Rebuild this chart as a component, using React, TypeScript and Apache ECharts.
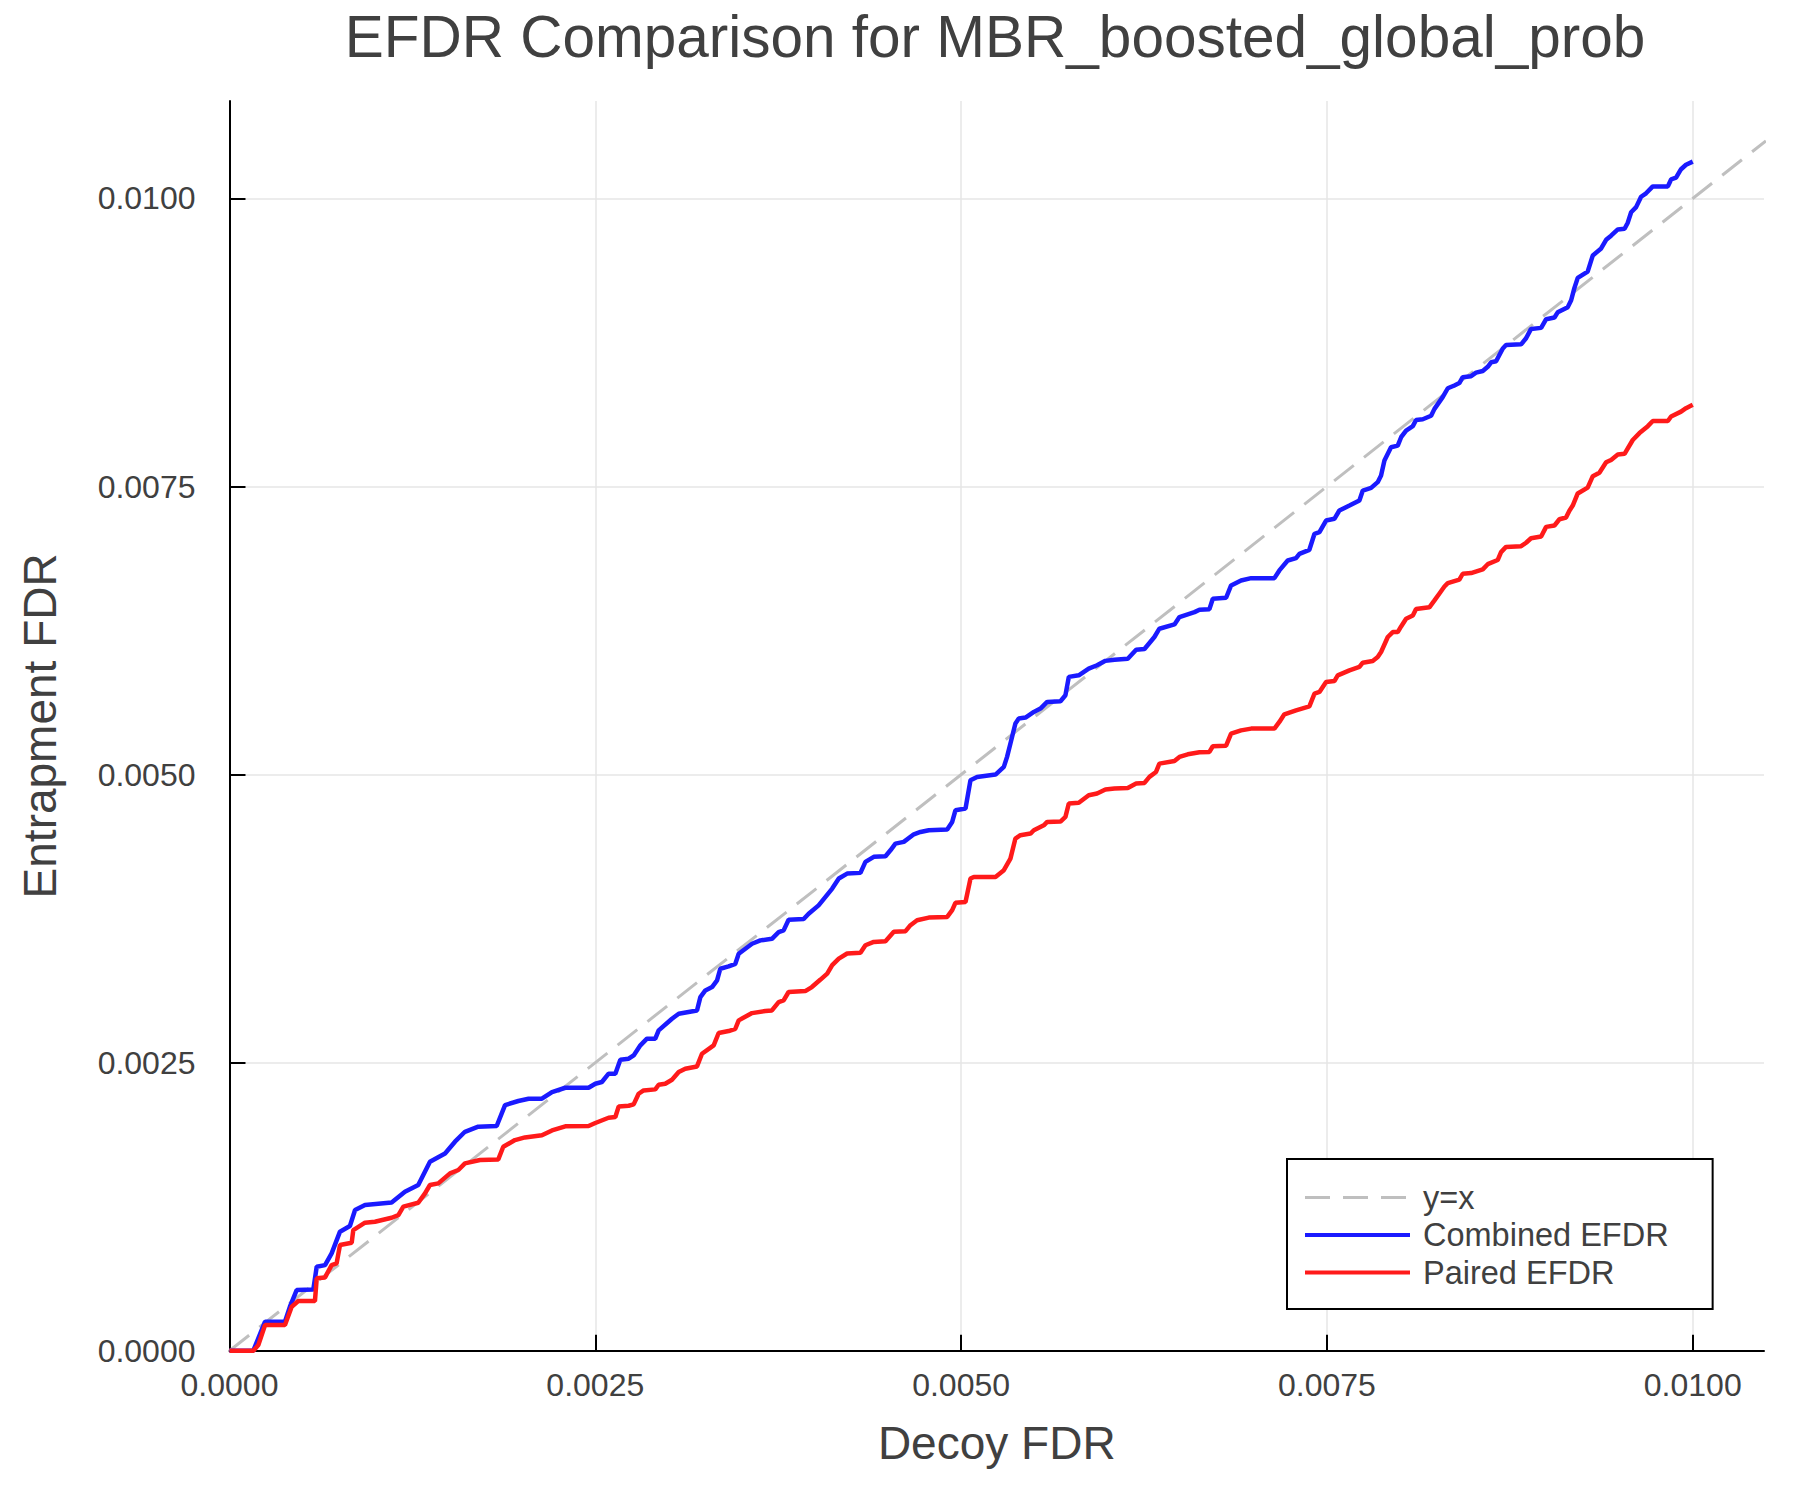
import * as echarts from 'echarts';
import React, { useEffect, useRef } from 'react';

// values, in FDR units
const combinedX = [
  0, 0.000163, 0.000243, 0.000379, 0.000413, 0.000459, 0.000573, 0.000596, 0.000653, 0.000698,
  0.000755, 0.000823, 0.000858, 0.000926, 0.001108, 0.001199, 0.00129, 0.00137, 0.001473, 0.001541,
  0.001609, 0.0017, 0.001826, 0.001883, 0.001974, 0.002044, 0.002135, 0.002204, 0.002295, 0.002454,
  0.0025, 0.002545, 0.002591, 0.002637, 0.002671, 0.002728, 0.002762, 0.002808, 0.002853, 0.00291,
  0.002933, 0.003024, 0.00307, 0.003195, 0.003218, 0.003252, 0.003298, 0.003332, 0.003354, 0.003411,
  0.003457, 0.00348, 0.003571, 0.003628, 0.003707, 0.003753, 0.003787, 0.003821, 0.003924, 0.003958,
  0.004026, 0.004119, 0.004164, 0.004221, 0.004312, 0.004346, 0.004403, 0.004483, 0.004517, 0.004551,
  0.004608, 0.004677, 0.004722, 0.004779, 0.004905, 0.004939, 0.004961, 0.00503, 0.005064, 0.005109,
  0.005235, 0.005292, 0.005314, 0.005337, 0.005371, 0.005394, 0.00544, 0.005497, 0.005542, 0.005588,
  0.005679, 0.005713, 0.005736, 0.005804, 0.005872, 0.005929, 0.005986, 0.006048, 0.006139, 0.006196,
  0.006253, 0.006321, 0.006355, 0.006458, 0.006492, 0.006595, 0.006629, 0.006697, 0.00672, 0.006811,
  0.006845, 0.006913, 0.006982, 0.007141, 0.007175, 0.007232, 0.007289, 0.007312, 0.00738, 0.007415,
  0.007449, 0.007494, 0.007551, 0.007585, 0.007654, 0.007722, 0.007745, 0.007802, 0.007847, 0.00787,
  0.007893, 0.007938, 0.007984, 0.008007, 0.008041, 0.008087, 0.008109, 0.008155, 0.008212, 0.008235,
  0.008292, 0.008326, 0.008371, 0.008405, 0.008428, 0.008485, 0.008519, 0.008565, 0.008599, 0.008622,
  0.008656, 0.008702, 0.008724, 0.008827, 0.008861, 0.008895, 0.008964, 0.008998, 0.009055, 0.009077,
  0.009146, 0.009169, 0.009191, 0.009214, 0.009282, 0.009317, 0.009374, 0.009408, 0.009442, 0.009488,
  0.009534, 0.009556, 0.009579, 0.009613, 0.009647, 0.009681, 0.009727, 0.00983, 0.009852, 0.009886,
  0.00992, 0.009954, 0.01,
];
const combinedY = [
  0, 0, 0.000252, 0.000252, 0.000382, 0.000526, 0.000532, 0.000729, 0.000743, 0.000845,
  0.001033, 0.001082, 0.001221, 0.001264, 0.001287, 0.00138, 0.001438, 0.00164, 0.001712, 0.001814,
  0.0019, 0.001944, 0.00195, 0.002132, 0.002167, 0.002187, 0.002187, 0.002245, 0.002282, 0.002282,
  0.002317, 0.002332, 0.002404, 0.002404, 0.002525, 0.002534, 0.002563, 0.00265, 0.002708, 0.002708,
  0.00278, 0.002881, 0.002925, 0.002953, 0.003069, 0.003127, 0.003156, 0.003214, 0.003315, 0.003335,
  0.003358, 0.003445, 0.003532, 0.003561, 0.003575, 0.003633, 0.003648, 0.00374, 0.003746, 0.003792,
  0.003865, 0.004011, 0.004098, 0.004141, 0.004147, 0.004242, 0.004286, 0.004291, 0.004343, 0.004401,
  0.004416, 0.004482, 0.004502, 0.004517, 0.004523, 0.004589, 0.00469, 0.004705, 0.004951, 0.00498,
  0.005, 0.005067, 0.005154, 0.00527, 0.005443, 0.005486, 0.005495, 0.005544, 0.005573, 0.005631,
  0.005637, 0.005689, 0.005848, 0.005862, 0.00592, 0.005949, 0.005987, 0.005997, 0.006006, 0.006084,
  0.00609, 0.006194, 0.006266, 0.006303, 0.006367, 0.00641, 0.006431, 0.006436, 0.006526, 0.006535,
  0.006642, 0.006685, 0.006705, 0.006705, 0.006772, 0.006858, 0.006879, 0.006916, 0.006951, 0.00709,
  0.007104, 0.007205, 0.00722, 0.007292, 0.007335, 0.007379, 0.007465, 0.007488, 0.007538, 0.007595,
  0.007725, 0.007841, 0.007855, 0.007928, 0.007986, 0.008024, 0.008078, 0.008084, 0.008114, 0.008174,
  0.008278, 0.008353, 0.008377, 0.008398, 0.008449, 0.008458, 0.008488, 0.008503, 0.008539, 0.008578,
  0.008587, 0.008698, 0.008728, 0.008734, 0.008787, 0.008868, 0.008877, 0.008952, 0.008967, 0.009012,
  0.009057, 0.009117, 0.009222, 0.009311, 0.009365, 0.009506, 0.009566, 0.009641, 0.009677, 0.009731,
  0.009737, 0.00979, 0.00988, 0.009925, 0.010015, 0.010045, 0.010105, 0.010105, 0.010165, 0.01018,
  0.010254, 0.010293, 0.01032,
];

const pairedX = [
  0, 0.000163, 0.000197, 0.000243, 0.000379, 0.000425, 0.00047, 0.000584, 0.000596, 0.000653,
  0.000698, 0.000732, 0.000755, 0.000835, 0.000846, 0.000926, 0.000994, 0.001108, 0.001154, 0.001188,
  0.00129, 0.001336, 0.00137, 0.001427, 0.001507, 0.001564, 0.001609, 0.001712, 0.001837, 0.001871,
  0.001951, 0.002019, 0.002135, 0.002204, 0.002295, 0.002454, 0.0025, 0.002591, 0.002637, 0.00266,
  0.002728, 0.002762, 0.002796, 0.00283, 0.00291, 0.002933, 0.002978, 0.003024, 0.00307, 0.003115,
  0.003195, 0.003229, 0.003309, 0.003343, 0.003411, 0.003457, 0.00348, 0.003571, 0.003662, 0.003707,
  0.003753, 0.003787, 0.003821, 0.003935, 0.00398, 0.004039, 0.004085, 0.004119, 0.004164, 0.004221,
  0.004312, 0.004346, 0.004403, 0.004483, 0.00454, 0.00462, 0.004654, 0.004699, 0.004779, 0.004905,
  0.004939, 0.004961, 0.00503, 0.005064, 0.005087, 0.005235, 0.005292, 0.005337, 0.005371, 0.005405,
  0.005474, 0.005497, 0.005565, 0.005588, 0.005679, 0.005713, 0.005736, 0.005804, 0.005872, 0.005929,
  0.005986, 0.006048, 0.006139, 0.006196, 0.006253, 0.006287, 0.006332, 0.006355, 0.006458, 0.006492,
  0.006549, 0.006629, 0.006697, 0.00672, 0.006811, 0.006845, 0.006913, 0.006982, 0.007141, 0.007175,
  0.007209, 0.007289, 0.00738, 0.007415, 0.007449, 0.007494, 0.007551, 0.007574, 0.007654, 0.007722,
  0.007745, 0.007813, 0.007847, 0.00787, 0.007916, 0.00795, 0.007984, 0.008007, 0.008041, 0.008087,
  0.008109, 0.0082, 0.008235, 0.008269, 0.008303, 0.008326, 0.008405, 0.008428, 0.008485, 0.008565,
  0.008599, 0.008667, 0.00869, 0.008724, 0.008827, 0.008861, 0.008895, 0.008964, 0.008998, 0.009055,
  0.009089, 0.009134, 0.009157, 0.00918, 0.009214, 0.009282, 0.009317, 0.009362, 0.009408, 0.009442,
  0.009488, 0.009534, 0.00959, 0.009636, 0.009693, 0.009727, 0.00983, 0.009852, 0.00992, 0.009954,
  0.01,
];
const pairedY = [
  0, 0, 0.000049, 0.000223, 0.000223, 0.000382, 0.000431, 0.000431, 0.000628, 0.000636,
  0.000743, 0.000758, 0.000917, 0.000937, 0.001047, 0.001111, 0.001119, 0.001154, 0.001177, 0.00125,
  0.001284, 0.001365, 0.001438, 0.001452, 0.001539, 0.001568, 0.001626, 0.001655, 0.00166, 0.00177,
  0.001828, 0.001851, 0.001869, 0.001912, 0.001947, 0.00195, 0.001976, 0.002022, 0.002028, 0.00212,
  0.002126, 0.002138, 0.00223, 0.002259, 0.002268, 0.002308, 0.002317, 0.002352, 0.002418, 0.002447,
  0.002467, 0.002577, 0.00265, 0.002757, 0.002774, 0.002794, 0.002867, 0.00293, 0.002948, 0.002953,
  0.003026, 0.00304, 0.003113, 0.003121, 0.003156, 0.003221, 0.003273, 0.003346, 0.003403, 0.003447,
  0.003453, 0.003519, 0.003548, 0.003554, 0.003635, 0.003641, 0.003693, 0.003736, 0.003759, 0.003765,
  0.003823, 0.003887, 0.003895, 0.004098, 0.004112, 0.004112, 0.00417, 0.004271, 0.004445, 0.004474,
  0.004488, 0.004517, 0.00456, 0.004589, 0.004592, 0.004633, 0.004749, 0.004755, 0.004821, 0.004836,
  0.00487, 0.004879, 0.004884, 0.004922, 0.004928, 0.00498, 0.005023, 0.005095, 0.005118, 0.005153,
  0.005176, 0.005194, 0.005197, 0.005246, 0.005251, 0.005355, 0.005384, 0.005399, 0.005399, 0.005457,
  0.005523, 0.005558, 0.005592, 0.005702, 0.005717, 0.005803, 0.005812, 0.005861, 0.005905, 0.005934,
  0.005971, 0.005986, 0.00602, 0.006064, 0.006194, 0.006237, 0.006237, 0.006286, 0.006353, 0.00638,
  0.006437, 0.006452, 0.006512, 0.006572, 0.006632, 0.006662, 0.006692, 0.006743, 0.006749, 0.006781,
  0.006826, 0.006862, 0.006931, 0.006976, 0.006982, 0.007012, 0.007051, 0.007066, 0.00715, 0.007162,
  0.007216, 0.007231, 0.00729, 0.007335, 0.00744, 0.007491, 0.00759, 0.00762, 0.00771, 0.007731,
  0.007778, 0.007784, 0.007904, 0.007964, 0.008024, 0.008069, 0.008069, 0.008108, 0.00815, 0.00818,
  0.00821,
];

const identityX = [0, 0.0105];
const identityY = [0, 0.0105];

const tickValues = [0, 0.0025, 0.005, 0.0075, 0.01];

const FONT = '"Liberation Sans", Arial, Helvetica, sans-serif';
const TEXT = '#404040';

const zip = (xs: number[], ys: number[]) => xs.map((x, i) => [x, ys[i]]);

const axisCommon = {
  type: 'value' as const,
  min: 0,
  interval: 0.0025,
  nameLocation: 'middle' as const,
  nameTextStyle: { fontSize: 46, color: TEXT, fontFamily: FONT },
  axisLine: { show: true, onZero: false, lineStyle: { color: '#000', width: 2 } },
  axisTick: {
    show: true,
    inside: true,
    length: 16,
    customValues: tickValues,
    lineStyle: { color: '#000', width: 2 },
  },
  axisLabel: {
    customValues: tickValues,
    fontSize: 32,
    color: TEXT,
    fontFamily: FONT,
    formatter: (v: number) => v.toFixed(4),
  },
  splitLine: { show: true, lineStyle: { color: '#e6e6e6', width: 1.5 } },
};

const App: React.FC = () => {
  const ref = useRef<HTMLDivElement>(null);

  useEffect(() => {
    const chart = echarts.init(ref.current, null, { renderer: 'svg' });
    chart.setOption({
      animation: false,
      backgroundColor: '#fff',
      graphic: [
        {
          type: 'text',
          x: 995,
          y: 36,
          style: {
            text: 'EFDR Comparison for MBR_boosted_global_prob',
            fontSize: 58.5,
            fontFamily: FONT,
            fill: TEXT,
            align: 'center',
            verticalAlign: 'middle',
          },
        },
      ],
      grid: { left: 229.5, right: 36, top: 101, bottom: 149.3 },
      xAxis: {
        ...axisCommon,
        max: 0.010487,
        name: 'Decoy FDR',
        nameGap: 69,
        axisLabel: { ...axisCommon.axisLabel, margin: 18 },
      },
      yAxis: {
        ...axisCommon,
        max: 0.010846,
        name: 'Entrapment FDR',
        nameGap: 167,
        axisLabel: { ...axisCommon.axisLabel, margin: 34 },
      },
      legend: {
        orient: 'vertical',
        left: 1287,
        top: 1159,
        padding: [22, 44, 20, 16],
        itemWidth: 105,
        itemHeight: 14,
        itemGap: 4.5,
        borderColor: '#000',
        borderWidth: 2,
        borderRadius: 0,
        backgroundColor: '#fff',
        selectedMode: false,
        itemStyle: { opacity: 0 },
        lineStyle: { width: 4 },
        textStyle: { fontSize: 32.5, color: TEXT, fontFamily: FONT, padding: [0, 0, 0, 8] },
        data: [
          { name: 'y=x', lineStyle: { width: 3 } },
          { name: 'Combined EFDR' },
          { name: 'Paired EFDR' },
        ],
      },
      series: [
        {
          name: 'y=x',
          type: 'line',
          data: zip(identityX, identityY),
          showSymbol: false,
          symbol: 'none',
          lineStyle: { color: '#bfbfbf', width: 3, type: [25, 13] },
          itemStyle: { color: '#bfbfbf' },
        },
        {
          name: 'Combined EFDR',
          type: 'line',
          data: zip(combinedX, combinedY),
          showSymbol: false,
          symbol: 'none',
          lineStyle: { color: '#1a1aff', width: 4.5 },
          itemStyle: { color: '#1a1aff' },
        },
        {
          name: 'Paired EFDR',
          type: 'line',
          data: zip(pairedX, pairedY),
          showSymbol: false,
          symbol: 'none',
          lineStyle: { color: '#ff1a1a', width: 4.5 },
          itemStyle: { color: '#ff1a1a' },
        },
      ],
    });

    return () => {
      chart.dispose();
    };
  }, []);

  return (
    <div
      ref={ref}
      style={{ position: 'absolute', left: 0, top: 0, width: 1800, height: 1500 }}
    ></div>
  );
};

export default App;
